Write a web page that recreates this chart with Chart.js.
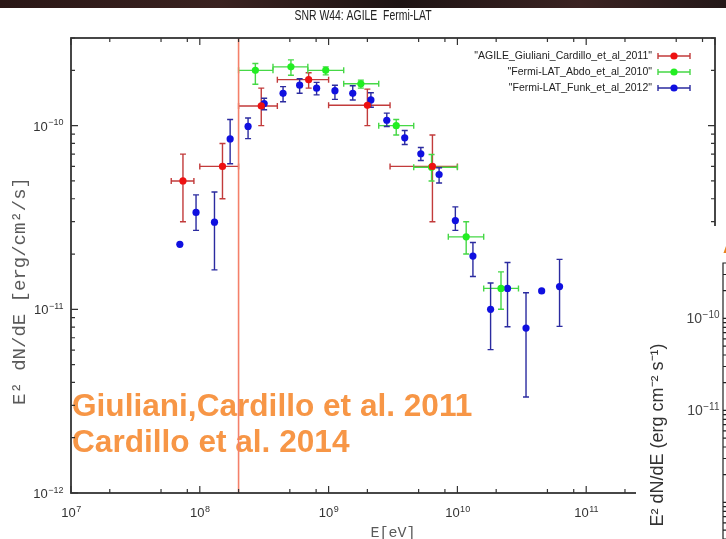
<!DOCTYPE html>
<html>
<head>
<meta charset="utf-8">
<script src="https://cdn.jsdelivr.net/npm/chart.js@4"></script>
<style>
  html, body { margin: 0; padding: 0; background: #fff; }
  #wrap { position: relative; width: 726px; height: 539px; overflow: hidden; background: #fff; }
  #strip { position: absolute; left: 0; top: 0; width: 726px; height: 8px;
           background: linear-gradient(90deg, #2a1716 0%, #3a2220 30%, #1e1414 55%, #3b2322 80%, #241818 100%); }
  #main { position: absolute; left: 0; top: 0; }
  #inset { position: absolute; left: 636px; top: 226px; background: #fff; }
</style>
</head>
<body>
<div id="wrap">
  <canvas id="main" width="726" height="539"></canvas>
  <div id="strip"></div>
  <canvas id="inset" width="90" height="313"></canvas>
</div>
<script>
// ---- SNR W44 spectral points: E [eV], E^2 dN/dE [erg/cm^2/s] ----
const agileE   = [7.4e7, 1.5e8, 3.0e8, 7.0e8, 2.0e9, 6.4e9];
const agileF   = [5.0e-11, 6.0e-11, 1.28e-10, 1.78e-10, 1.29e-10, 6.0e-11];
const agileElo = [6.0e7, 1.0e8, 2.0e8, 4.0e8, 1.0e9, 3.0e9];
const agileEhi = [9.0e7, 2.0e8, 4.0e8, 1.0e9, 3.0e9, 1.0e10];
const agileFlo = [3.0e-11, 4.0e-11, 1.0e-10, 1.6e-10, 1.0e-10, 3.0e-11];
const agileFhi = [7.0e-11, 8.0e-11, 1.6e-10, 1.94e-10, 1.58e-10, 8.9e-11];

const abdoE   = [2.7e8, 5.1e8, 9.5e8, 1.78e9, 3.35e9, 6.3e9, 1.17e10, 2.18e10];
const abdoF   = [2.0e-10, 2.09e-10, 2.0e-10, 1.69e-10, 1.0e-10, 5.94e-11, 2.48e-11, 1.3e-11];
const abdoElo = [2.0e8, 3.7e8, 6.9e8, 1.31e9, 2.45e9, 4.58e9, 8.5e9, 1.6e10];
const abdoEhi = [3.7e8, 6.9e8, 1.31e9, 2.45e9, 4.58e9, 1.0e10, 1.6e10, 2.98e10];
const abdoFlo = [1.68e-10, 1.88e-10, 1.89e-10, 1.6e-10, 8.9e-11, 5.0e-11, 2.0e-11, 1.0e-11];
const abdoFhi = [2.18e-10, 2.28e-10, 2.09e-10, 1.77e-10, 1.08e-10, 6.96e-11, 3.0e-11, 1.6e-11];

const funkE   = [7.0e7, 9.35e7, 1.30e8, 1.72e8, 2.37e8, 3.16e8, 4.43e8, 5.96e8, 8.07e8, 1.12e9, 1.54e9, 2.13e9,
                 2.83e9, 3.90e9, 5.2e9, 7.21e9, 9.64e9, 1.32e10, 1.81e10, 2.45e10, 3.41e10, 4.51e10, 6.21e10];
const funkF   = [2.26e-11, 3.37e-11, 2.98e-11, 8.47e-11, 9.9e-11, 1.32e-10, 1.50e-10, 1.66e-10, 1.6e-10, 1.55e-10, 1.50e-10, 1.38e-10,
                 1.07e-10, 8.58e-11, 7.03e-11, 5.42e-11, 3.04e-11, 1.95e-11, 1.0e-11, 1.3e-11, 7.9e-12, 1.26e-11, 1.33e-11];
const funkFlo = [null, 2.69e-11, 1.64e-11, 6.2e-11, 8.5e-11, 1.22e-10, 1.35e-10, 1.5e-10, 1.47e-10, 1.39e-10, 1.38e-10, 1.26e-10,
                 9.9e-11, 7.9e-11, 6.46e-11, 4.87e-11, 2.69e-11, 1.51e-11, 6.03e-12, 8.04e-12, 3.33e-12, null, 8.07e-12];
const funkFhi = [null, 4.2e-11, 4.35e-11, 1.08e-10, 1.1e-10, 1.41e-10, 1.63e-10, 1.80e-10, 1.72e-10, 1.66e-10, 1.65e-10, 1.51e-10,
                 1.17e-10, 9.4e-11, 7.6e-11, 5.9e-11, 3.61e-11, 2.31e-11, 1.39e-11, 1.80e-11, 1.23e-11, null, 1.87e-11];

// AGILE low-energy threshold marker
const thresholdE = [2e8];

// axis ticks
const xDecades = [7, 8, 9, 10, 11, 12];
const xMinorMult = [2, 5, 8];
const yDecades = [-12, -11, -10];
const yMinorMult = [2, 3, 4, 5, 6, 7, 8, 9];
const yMax = 3e-10;
const insetDecades = [-13, -12, -11, -10];
const insetLabelled = [-11, -10];

const seriesNames = ['AGILE_Giuliani_Cardillo_et_al_2011', 'Fermi-LAT_Abdo_et_al_2010', 'Fermi-LAT_Funk_et_al_2012'];
const annotationLines = ['Giuliani,Cardillo et al. 2011', 'Cardillo et al. 2014'];

function pts(E, F) { return E.map((e, i) => ({ x: e, y: F[i] })); }
function errs(E, F, Elo, Ehi, Flo, Fhi) {
  return E.map((e, i) => ({
    xlo: Elo ? Elo[i] : null, xhi: Ehi ? Ehi[i] : null,
    ylo: Flo[i], yhi: Fhi[i]
  }));
}

const SANS = "'Liberation Sans', Arial, Helvetica, sans-serif";
const MONO = "'Liberation Mono', 'DejaVu Sans Mono', monospace";

// superscript-style power-of-ten label
function drawPow(ctx, exp, x, y, align, base, sup) {
  const b = '10', s = String(exp).replace('-', '\u2212');
  ctx.font = base + 'px ' + SANS;
  const wb = ctx.measureText(b).width;
  ctx.font = sup + 'px ' + SANS;
  const ws = ctx.measureText(s).width;
  let x0 = align === 'center' ? x - (wb + ws) / 2 : (align === 'right' ? x - wb - ws : x);
  ctx.textAlign = 'left';
  ctx.textBaseline = 'alphabetic';
  ctx.font = base + 'px ' + SANS;
  ctx.fillText(b, x0, y);
  ctx.font = sup + 'px ' + SANS;
  ctx.fillText(s, x0 + wb + 0.5, y - base * 0.42);
}

const errorBars = {
  id: 'errorBars',
  beforeDatasetsDraw(chart) {
    const { ctx, scales: { x, y } } = chart;
    // annotation text sits beneath the data
    ctx.save();
    ctx.fillStyle = '#f79646';
    ctx.font = 'bold 31.6px ' + SANS;
    ctx.textAlign = 'left';
    ctx.textBaseline = 'alphabetic';
    ctx.fillText(annotationLines[0], chart.chartArea.left + 1, 416);
    ctx.fillText(annotationLines[1], chart.chartArea.left + 1, 452);
    ctx.restore();

    chart.data.datasets.forEach(ds => {
      if (!ds.err) return;
      ctx.save();
      ctx.strokeStyle = ds.barColor;
      ctx.lineWidth = 1.4;
      const cap = 3;
      ds.data.forEach((p, i) => {
        const e = ds.err[i];
        const px = x.getPixelForValue(p.x), py = y.getPixelForValue(p.y);
        ctx.beginPath();
        if (e.xlo != null) {
          const a = x.getPixelForValue(e.xlo), b = x.getPixelForValue(e.xhi);
          ctx.moveTo(a, py); ctx.lineTo(b, py);
          ctx.moveTo(a, py - cap); ctx.lineTo(a, py + cap);
          ctx.moveTo(b, py - cap); ctx.lineTo(b, py + cap);
        }
        if (e.ylo != null) {
          const a = y.getPixelForValue(e.ylo), b = y.getPixelForValue(e.yhi);
          ctx.moveTo(px, a); ctx.lineTo(px, b);
          ctx.moveTo(px - cap, a); ctx.lineTo(px + cap, a);
          ctx.moveTo(px - cap, b); ctx.lineTo(px + cap, b);
        }
        ctx.stroke();
      });
      ctx.restore();
    });
  }
};

const frameAndAxes = {
  id: 'frameAndAxes',
  afterDraw(chart) {
    const { ctx, chartArea: a, scales: { x, y } } = chart;
    ctx.save();
    ctx.strokeStyle = '#333';
    ctx.lineWidth = 1.2;
    ctx.beginPath();
    // x ticks, bottom and top mirrored
    xDecades.forEach(d => {
      const v = Math.pow(10, d);
      const px = x.getPixelForValue(v);
      ctx.moveTo(px, a.bottom); ctx.lineTo(px, a.bottom - 7);
      ctx.moveTo(px, a.top); ctx.lineTo(px, a.top + 7);
      if (d < xDecades[xDecades.length - 1]) {
        xMinorMult.forEach(m => {
          const q = x.getPixelForValue(m * v);
          ctx.moveTo(q, a.bottom); ctx.lineTo(q, a.bottom - 4);
          ctx.moveTo(q, a.top); ctx.lineTo(q, a.top + 4);
        });
      }
    });
    // y ticks, left and right mirrored
    yDecades.forEach(d => {
      const v = Math.pow(10, d);
      const py = y.getPixelForValue(v);
      ctx.moveTo(a.left, py); ctx.lineTo(a.left + 7, py);
      ctx.moveTo(a.right, py); ctx.lineTo(a.right - 7, py);
      yMinorMult.forEach(m => {
        if (m * v > yMax) return;
        const q = y.getPixelForValue(m * v);
        ctx.moveTo(a.left, q); ctx.lineTo(a.left + 4, q);
        ctx.moveTo(a.right, q); ctx.lineTo(a.right - 4, q);
      });
    });
    ctx.stroke();
    ctx.lineWidth = 1.8;
    ctx.strokeRect(a.left, a.top, a.right - a.left, a.bottom - a.top);

    // tick labels
    ctx.fillStyle = '#333';
    xDecades.forEach(d => drawPow(ctx, d, x.getPixelForValue(Math.pow(10, d)), 517, 'center', 13, 9));
    yDecades.forEach(d => drawPow(ctx, d, 63, y.getPixelForValue(Math.pow(10, d)) + 5, 'right', 13, 9));

    // axis titles
    ctx.fillStyle = '#5a5a5a';
    ctx.font = '15px ' + MONO;
    ctx.textAlign = 'center';
    ctx.textBaseline = 'alphabetic';
    ctx.fillText('E[eV]', (a.left + a.right) / 2, 537);
    ctx.save();
    ctx.font = '19px ' + MONO;
    ctx.translate(25, 291);
    ctx.rotate(-Math.PI / 2);
    ctx.fillText('E\u00B2 dN/dE [erg/cm\u00B2/s]', 0, 0);
    ctx.restore();

    // title, set in a condensed face
    ctx.fillStyle = '#222';
    ctx.font = '14.5px ' + SANS;
    const t = 'SNR W44: AGILE  Fermi-LAT';
    const tw = ctx.measureText(t).width;
    ctx.save();
    ctx.translate(363, 20);
    ctx.scale(137 / tw, 1);
    ctx.textAlign = 'center';
    ctx.fillText(t, 0, 0);
    ctx.restore();

    // key, top right inside the frame
    const rows = chart.data.datasets.filter(d => d.err);
    rows.forEach((ds, i) => {
      const ry = 56 + i * 16;
      ctx.fillStyle = '#222';
      ctx.font = '10.5px ' + SANS;
      ctx.textAlign = 'right';
      ctx.textBaseline = 'middle';
      ctx.fillText('"' + ds.label + '"', 652, ry);
      ctx.strokeStyle = ds.barColor;
      ctx.lineWidth = 1.4;
      ctx.beginPath();
      ctx.moveTo(658, ry); ctx.lineTo(690, ry);
      ctx.moveTo(658, ry - 3); ctx.lineTo(658, ry + 3);
      ctx.moveTo(690, ry - 3); ctx.lineTo(690, ry + 3);
      ctx.stroke();
      ctx.fillStyle = ds.backgroundColor;
      ctx.beginPath();
      ctx.arc(674, ry, 3.6, 0, Math.PI * 2);
      ctx.fill();
    });
    ctx.restore();
  }
};

function scatterSet(label, E, F, err, dot, bar) {
  return {
    type: 'scatter', label, data: pts(E, F), err,
    backgroundColor: dot, borderColor: dot, barColor: bar,
    pointRadius: 3.6, pointHoverRadius: 3.6, borderWidth: 0
  };
}

new Chart(document.getElementById('main'), {
  type: 'scatter',
  data: {
    datasets: [
      {
        type: 'line', label: 'threshold',
        data: [{ x: thresholdE[0], y: 1e-12 }, { x: thresholdE[0], y: yMax }],
        borderColor: '#f4806a', borderWidth: 1.6, pointRadius: 0, fill: false
      },
      scatterSet(seriesNames[0], agileE, agileF, errs(agileE, agileF, agileElo, agileEhi, agileFlo, agileFhi), '#ee1111', '#c23b3b'),
      scatterSet(seriesNames[1], abdoE, abdoF, errs(abdoE, abdoF, abdoElo, abdoEhi, abdoFlo, abdoFhi), '#22ee22', '#46d846'),
      scatterSet(seriesNames[2], funkE, funkF, errs(funkE, funkF, null, null, funkFlo, funkFhi), '#1010e0', '#2b2ba0')
    ]
  },
  options: {
    responsive: false,
    animation: false,
    events: [],
    layout: { padding: { left: 71, right: 11, top: 38, bottom: 46 } },
    plugins: { legend: { display: false }, tooltip: { enabled: false } },
    scales: {
      x: { type: 'logarithmic', min: 1e7, max: 1e12, display: false },
      y: { type: 'logarithmic', min: 1e-12, max: yMax, display: false }
    }
  },
  plugins: [errorBars, frameAndAxes]
});

// neighbouring spectrum panel, cropped at the right edge
const insetAxes = {
  id: 'insetAxes',
  afterDraw(chart) {
    const { ctx, chartArea: a, scales: { y } } = chart;
    ctx.save();
    ctx.strokeStyle = '#222';
    ctx.lineWidth = 1.2;
    ctx.beginPath();
    insetDecades.forEach(d => {
      const v = Math.pow(10, d);
      const py = y.getPixelForValue(v);
      if (py >= a.top && py <= a.bottom) { ctx.moveTo(a.left, py); ctx.lineTo(a.left + 7, py); }
      yMinorMult.forEach(m => {
        const q = y.getPixelForValue(m * v);
        if (q >= a.top && q <= a.bottom) { ctx.moveTo(a.left, q); ctx.lineTo(a.left + 4, q); }
      });
    });
    ctx.moveTo(a.left, a.bottom); ctx.lineTo(a.left, a.top); ctx.lineTo(a.right, a.top);
    ctx.stroke();
    ctx.fillStyle = '#444';
    insetLabelled.forEach(d => drawPow(ctx, d, a.left - 4, y.getPixelForValue(Math.pow(10, d)) + 5, 'right', 14, 10));

    ctx.fillStyle = '#333';
    ctx.font = '18px ' + SANS;
    ctx.textAlign = 'center';
    ctx.textBaseline = 'middle';
    ctx.save();
    ctx.translate(22, 209);
    ctx.rotate(-Math.PI / 2);
    ctx.fillText('E\u00B2 dN/dE (erg cm\u207B\u00B2 s\u207B\u00B9)', 0, 0);
    ctx.restore();

    ctx.fillStyle = '#e8841e';
    ctx.font = 'bold 20px ' + SANS;
    ctx.textAlign = 'left';
    ctx.textBaseline = 'alphabetic';
    ctx.fillText('A', 87, 27);
    ctx.restore();
  }
};

new Chart(document.getElementById('inset'), {
  type: 'scatter',
  data: { datasets: [{ data: [] }] },
  options: {
    responsive: false,
    animation: false,
    events: [],
    layout: { padding: { left: 87, right: 0, top: 37, bottom: 0 } },
    plugins: { legend: { display: false }, tooltip: { enabled: false } },
    scales: {
      x: { type: 'logarithmic', min: 1e8, max: 1e11, display: false },
      y: { type: 'logarithmic', min: 4e-13, max: 4e-10, display: false }
    }
  },
  plugins: [insetAxes]
});
</script>
</body>
</html>
